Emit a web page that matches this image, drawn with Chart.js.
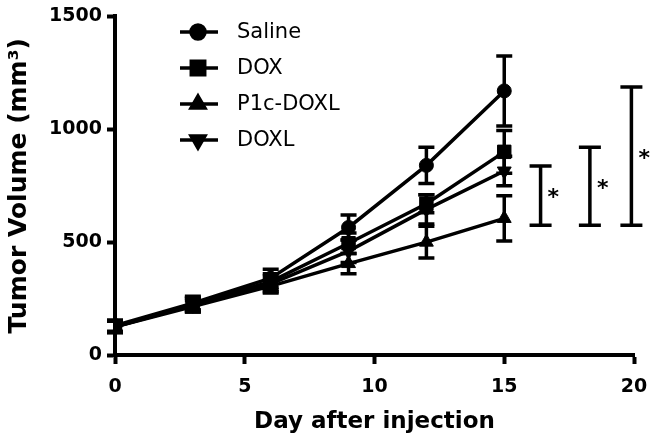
<!DOCTYPE html>
<html lang="en">

<head>
    <title>Tumor Volume</title>
    <meta charset="utf-8" />
    <script src="https://cdn.jsdelivr.net/npm/chart.js"></script>
    <style>
        html, body { margin: 0; padding: 0; background: #fff; }
        #wrap { width: 661px; height: 440px; }
    </style>
</head>

<body>
    <div id="wrap"><canvas id="grafico" width="661" height="440"></canvas></div>

    <script>
        // datos
        const dias = [0, 3, 6, 9, 12, 15];
        const saline = [130, 230, 340, 565, 840, 1170];
        const salineErr = [25, 30, 40, 55, 80, 155];
        const dox = [125, 225, 325, 495, 670, 900];
        const doxErr = [25, 30, 35, 45, 40, 95];
        const p1cDoxl = [125, 215, 305, 405, 500, 605];
        const p1cDoxlErr = [25, 25, 30, 45, 70, 100];
        const doxl = [125, 220, 315, 460, 645, 815];
        const doxlErr = [25, 30, 35, 50, 65, 65];

        // barras de significancia: dia, limite inferior, limite superior
        const sigX = [16.4, 18.3, 19.9];
        const sigLo = [575, 575, 575];
        const sigHi = [837, 920, 1187];
        const sigLabel = ["*", "*", "*"];

        const xTicks = [0, 5, 10, 15, 20];
        const yTicks = [0, 500, 1000, 1500];

        const fuente = "'DejaVu Sans', sans-serif";

        function serie(label, valores, errores, estilo, radio, rot) {
            return {
                label: label,
                data: dias.map((d, i) => ({ x: d, y: valores[i] })),
                err: errores,
                borderColor: '#000',
                backgroundColor: '#000',
                borderWidth: 3.5,
                pointStyle: estilo,
                pointRadius: radio,
                pointHoverRadius: radio,
                pointRotation: rot,
                pointBorderWidth: 1,
                tension: 0
            };
        }

        const errorBars = {
            id: 'errorBars',
            afterDatasetsDraw(chart) {
                const ctx = chart.ctx;
                const xs = chart.scales.x, ys = chart.scales.y;
                ctx.save();
                ctx.strokeStyle = '#000';
                ctx.lineWidth = 3.5;
                chart.data.datasets.forEach(ds => {
                    ds.data.forEach((p, i) => {
                        const px = xs.getPixelForValue(p.x);
                        const top = ys.getPixelForValue(p.y + ds.err[i]);
                        const bot = ys.getPixelForValue(p.y - ds.err[i]);
                        ctx.beginPath();
                        ctx.moveTo(px, top); ctx.lineTo(px, bot);
                        ctx.moveTo(px - 8, top); ctx.lineTo(px + 8, top);
                        ctx.moveTo(px - 8, bot); ctx.lineTo(px + 8, bot);
                        ctx.stroke();
                    });
                });
                // barras de significancia
                sigX.forEach((d, i) => {
                    const px = xs.getPixelForValue(d);
                    const top = ys.getPixelForValue(sigHi[i]);
                    const bot = ys.getPixelForValue(sigLo[i]);
                    ctx.beginPath();
                    ctx.moveTo(px, top); ctx.lineTo(px, bot);
                    ctx.moveTo(px - 11, top); ctx.lineTo(px + 11, top);
                    ctx.moveTo(px - 11, bot); ctx.lineTo(px + 11, bot);
                    ctx.stroke();
                    ctx.fillStyle = '#000';
                    ctx.font = 'bold 22px ' + fuente;
                    ctx.textAlign = 'left';
                    ctx.textBaseline = 'middle';
                    ctx.fillText(sigLabel[i], px + 7, (top + bot) / 2 + 3);
                });
                ctx.restore();
            }
        };

        const leyenda = {
            id: 'leyenda',
            afterDraw(chart) {
                const ctx = chart.ctx;
                ctx.save();
                chart.data.datasets.forEach((ds, i) => {
                    const y = 32 + i * 36;
                    ctx.strokeStyle = '#000';
                    ctx.lineWidth = 3.5;
                    ctx.beginPath();
                    ctx.moveTo(180, y); ctx.lineTo(218, y);
                    ctx.stroke();
                    ctx.fillStyle = '#000';
                    Chart.helpers.drawPoint(ctx, {
                        pointStyle: ds.pointStyle,
                        radius: ds.pointRadius,
                        rotation: ds.pointRotation,
                        borderWidth: 1
                    }, 198, y);
                    ctx.font = '21px ' + fuente;
                    ctx.textAlign = 'left';
                    ctx.textBaseline = 'middle';
                    ctx.fillText(ds.label, 237, y + 1);
                });
                ctx.restore();
            }
        };

        const ctx = document.getElementById('grafico').getContext('2d');
        new Chart(ctx, {
            type: 'line',
            data: {
                datasets: [
                    serie('Saline', saline, salineErr, 'circle', 7, 0),
                    serie('DOX', dox, doxErr, 'rect', 9.5, 0),
                    serie('P1c-DOXL', p1cDoxl, p1cDoxlErr, 'triangle', 8, 0),
                    serie('DOXL', doxl, doxlErr, 'triangle', 8, 180)
                ]
            },
            options: {
                responsive: false,
                animation: false,
                events: [],
                layout: { padding: { top: 13, right: 27, left: 0, bottom: 0 } },
                plugins: {
                    legend: { display: false },
                    tooltip: { enabled: false }
                },
                scales: {
                    x: {
                        type: 'linear',
                        min: 0,
                        max: 20,
                        afterBuildTicks: s => { s.ticks = xTicks.map(v => ({ value: v })); },
                        afterFit: s => { s.height = 85; },
                        border: { display: true, color: '#000', width: 4 },
                        grid: { display: true, drawOnChartArea: false, drawTicks: true, tickLength: 9, tickColor: '#000', tickWidth: 4 },
                        ticks: { color: '#000', padding: 12, callback: v => String(v), font: { family: fuente, size: 19, weight: 'bold' } },
                        title: {
                            display: true,
                            text: 'Day after injection',
                            color: '#000',
                            padding: { top: 0 },
                            font: { family: fuente, size: 23, weight: 'bold' }
                        }
                    },
                    y: {
                        type: 'linear',
                        min: 0,
                        max: 1500,
                        afterBuildTicks: s => { s.ticks = yTicks.map(v => ({ value: v })); },
                        afterFit: s => { s.width = 115; },
                        border: { display: true, color: '#000', width: 4 },
                        grid: { display: true, drawOnChartArea: false, drawTicks: true, tickLength: 8, tickColor: '#000', tickWidth: 4 },
                        ticks: { color: '#000', padding: 5, callback: v => String(v), font: { family: fuente, size: 19, weight: 'bold' } },
                        title: {
                            display: true,
                            text: 'Tumor Volume (mm³)',
                            color: '#000',
                            padding: { top: 4, bottom: 0 },
                            font: { family: fuente, size: 25, weight: 'bold' }
                        }
                    }
                }
            },
            plugins: [errorBars, leyenda]
        });
    </script>
</body>

</html>
